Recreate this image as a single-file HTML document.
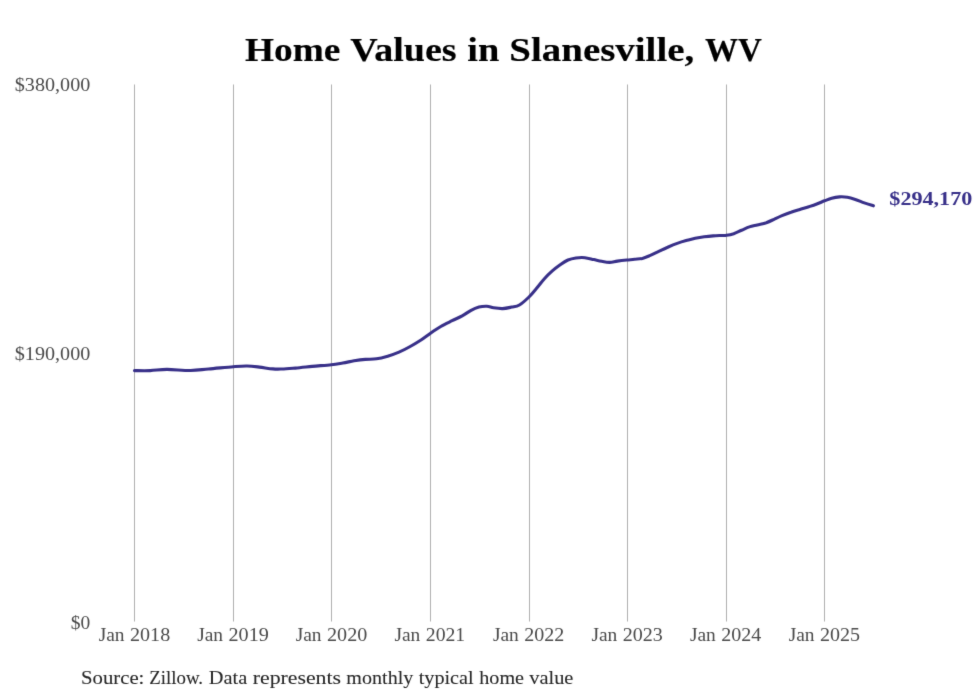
<!DOCTYPE html>
<html lang="en">
<head>
<meta charset="utf-8">
<title>Home Values in Slanesville, WV</title>
<style>
html,body{margin:0;padding:0;background:#ffffff;overflow:hidden}
svg{display:block;will-change:transform}
text{font-family:"Liberation Serif",serif;white-space:pre}
</style>
</head>
<body>
<svg width="980" height="699" viewBox="0 0 980 699">
<defs><filter id="soft" x="0" y="0" width="980" height="699" filterUnits="userSpaceOnUse" color-interpolation-filters="sRGB"><feConvolveMatrix order="3" kernelMatrix="0.0100 0.0800 0.0100 0.0800 0.6400 0.0800 0.0100 0.0800 0.0100" divisor="1" bias="0" edgeMode="none" preserveAlpha="false"/></filter></defs>
<rect x="0" y="0" width="980" height="699" fill="#ffffff"/>
<g filter="url(#soft)">
<g stroke="#b0b0b0" stroke-width="1"><line x1="134.5" y1="84.5" x2="134.5" y2="621.5"/><line x1="233.5" y1="84.5" x2="233.5" y2="621.5"/><line x1="331.5" y1="84.5" x2="331.5" y2="621.5"/><line x1="430.5" y1="84.5" x2="430.5" y2="621.5"/><line x1="529.5" y1="84.5" x2="529.5" y2="621.5"/><line x1="627.5" y1="84.5" x2="627.5" y2="621.5"/><line x1="726.5" y1="84.5" x2="726.5" y2="621.5"/><line x1="824.5" y1="84.5" x2="824.5" y2="621.5"/></g>
<g font-size="32.67" fill="#000000" font-weight="bold" stroke="#000000" stroke-width="0.15">
<text transform="translate(245.04 60.80) scale(1.1424 1)">Home</text>
<text transform="translate(350.24 60.80) scale(1.1649 1)">Values</text>
<text transform="translate(467.23 60.80) scale(1.1758 1)">in</text>
<text transform="translate(509.35 60.80) scale(1.1917 1)">Slanesville,</text>
<text transform="translate(704.98 60.80) scale(1.0115 1)">WV</text>
</g>
<g font-size="17.92" fill="#4a4a4a">
<text transform="translate(14.75 90.70) scale(1.1251 1)">$380,000</text>
<text transform="translate(14.75 359.90) scale(1.1251 1)">$190,000</text>
<text transform="translate(70.76 628.90) scale(1.0902 1)">$0</text>
<text transform="translate(98.70 640.80) scale(1.0841 1)">Jan</text>
<text transform="translate(130.01 640.80) scale(1.1227 1)">2018</text>
<text transform="translate(197.20 640.80) scale(1.0841 1)">Jan</text>
<text transform="translate(228.51 640.80) scale(1.1244 1)">2019</text>
<text transform="translate(295.70 640.80) scale(1.0841 1)">Jan</text>
<text transform="translate(327.01 640.80) scale(1.1231 1)">2020</text>
<text transform="translate(394.45 640.80) scale(1.0841 1)">Jan</text>
<text transform="translate(425.78 640.80) scale(1.1005 1)">2021</text>
<text transform="translate(492.95 640.80) scale(1.0841 1)">Jan</text>
<text transform="translate(524.27 640.80) scale(1.1183 1)">2022</text>
<text transform="translate(591.45 640.80) scale(1.0841 1)">Jan</text>
<text transform="translate(622.77 640.80) scale(1.1200 1)">2023</text>
<text transform="translate(689.95 640.80) scale(1.0841 1)">Jan</text>
<text transform="translate(721.27 640.80) scale(1.1175 1)">2024</text>
<text transform="translate(788.70 640.80) scale(1.0841 1)">Jan</text>
<text transform="translate(820.02 640.80) scale(1.1187 1)">2025</text>
</g>
<g font-size="18.2" fill="#262626" stroke="#262626" stroke-width="0.07">
<text transform="translate(80.98 683.90) scale(1.1406 1)">Source:</text>
<text transform="translate(149.33 683.90) scale(1.0355 1)">Zillow.</text>
<text transform="translate(208.79 683.90) scale(1.1195 1)">Data</text>
<text transform="translate(252.73 683.90) scale(1.1974 1)">represents</text>
<text transform="translate(346.37 683.90) scale(1.1034 1)">monthly</text>
<text transform="translate(418.68 683.90) scale(1.1103 1)">typical</text>
<text transform="translate(479.25 683.90) scale(1.1082 1)">home</text>
<text transform="translate(529.25 683.90) scale(1.1200 1)">value</text>
</g>
<path d="M134.5,370.6 C137.1,370.6 144.8,370.8 150.2,370.6 C155.6,370.4 160.3,369.4 167.0,369.4 C173.7,369.4 183.7,370.6 190.6,370.5 C197.5,370.4 201.5,369.6 208.6,369.0 C215.7,368.4 226.9,367.2 233.3,366.7 C239.7,366.2 242.8,365.9 247.1,366.0 C251.4,366.1 255.1,366.6 259.4,367.1 C263.7,367.6 269.1,368.6 272.9,368.9 C276.6,369.2 278.2,369.1 281.9,369.0 C285.6,368.9 290.2,368.5 295.3,368.1 C300.4,367.7 306.2,367.0 312.2,366.4 C318.2,365.8 326.2,365.3 331.3,364.7 C336.4,364.1 339.0,363.6 342.8,363.0 C346.6,362.4 350.4,361.4 354.1,360.8 C357.9,360.2 361.6,359.7 365.3,359.4 C369.0,359.1 372.8,359.3 376.5,358.8 C380.2,358.3 383.9,357.3 387.7,356.2 C391.4,355.1 395.2,353.7 399.0,352.1 C402.8,350.5 406.5,348.6 410.2,346.5 C413.9,344.4 418.0,341.9 421.4,339.7 C424.8,337.5 427.3,335.4 430.5,333.2 C433.7,331.0 437.2,328.6 440.8,326.5 C444.4,324.4 448.5,322.5 452.1,320.7 C455.7,318.9 459.0,317.6 462.2,315.9 C465.4,314.2 468.3,311.8 471.1,310.3 C473.9,308.8 476.4,307.8 479.0,307.1 C481.6,306.4 484.5,306.2 486.9,306.3 C489.3,306.4 491.0,307.4 493.6,307.8 C496.2,308.2 499.6,308.7 502.6,308.6 C505.6,308.5 508.8,307.7 511.6,307.1 C514.4,306.5 516.5,306.7 519.4,305.0 C522.3,303.3 526.1,299.8 529.0,297.0 C531.9,294.2 534.0,291.4 536.6,288.3 C539.2,285.2 541.8,281.6 544.4,278.7 C547.0,275.8 549.7,273.2 552.3,270.9 C554.9,268.6 557.6,266.5 560.2,264.7 C562.8,262.9 565.4,261.1 568.0,260.0 C570.6,258.9 573.1,258.4 575.9,258.0 C578.7,257.6 581.9,257.4 584.9,257.7 C587.9,258.0 591.0,259.0 593.8,259.6 C596.6,260.2 599.1,260.8 601.7,261.3 C604.3,261.8 607.0,262.4 609.6,262.4 C612.2,262.4 614.5,261.5 617.4,261.1 C620.3,260.7 623.9,260.3 626.8,260.0 C629.7,259.7 632.0,259.6 634.6,259.3 C637.2,259.0 639.8,259.0 642.4,258.4 C645.0,257.8 647.5,256.6 650.3,255.4 C653.1,254.2 656.3,252.5 659.3,251.1 C662.3,249.7 665.3,248.3 668.3,247.0 C671.3,245.7 674.2,244.5 677.2,243.4 C680.2,242.3 683.2,241.4 686.2,240.6 C689.2,239.8 692.2,238.9 695.2,238.3 C698.2,237.7 701.2,237.2 704.2,236.8 C707.2,236.4 710.4,236.1 713.2,235.9 C716.0,235.7 718.8,235.6 721.0,235.5 C723.2,235.4 724.4,235.7 726.5,235.3 C728.6,235.0 731.2,234.5 733.7,233.7 C736.2,232.8 739.0,231.3 741.6,230.2 C744.2,229.1 746.8,227.8 749.4,226.9 C752.0,226.0 754.5,225.6 757.3,224.9 C760.1,224.2 763.5,223.6 766.3,222.7 C769.1,221.7 771.5,220.5 774.1,219.3 C776.7,218.1 779.2,216.9 782.0,215.7 C784.8,214.5 788.0,213.2 791.0,212.2 C794.0,211.1 796.9,210.3 799.9,209.4 C802.9,208.5 806.1,207.6 808.9,206.7 C811.7,205.8 814.2,205.0 816.8,204.0 C819.4,203.0 822.0,201.8 824.5,200.8 C827.0,199.9 829.2,199.0 831.7,198.3 C834.2,197.6 837.0,197.1 839.6,196.9 C842.2,196.7 844.8,196.9 847.4,197.3 C850.0,197.7 852.5,198.5 855.3,199.4 C858.1,200.3 861.3,201.8 864.3,202.9 C867.3,204.0 871.8,205.3 873.4,205.8" fill="none" stroke="#383089" stroke-width="3.1" stroke-linecap="round" stroke-linejoin="round"/>
<g font-size="17.92" fill="#383089" font-weight="bold">
<text transform="translate(889.33 204.70) scale(1.2353 1)">$294,170</text>
</g>
</g>
</svg>
</body>
</html>
